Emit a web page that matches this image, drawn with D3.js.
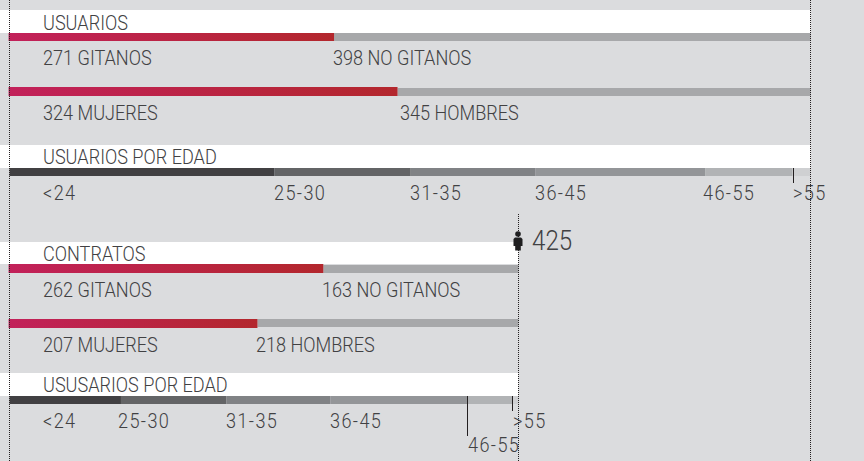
<!DOCTYPE html>
<html><head><meta charset="utf-8">
<script src="https://cdn.jsdelivr.net/npm/d3@7"></script>
<style>
html,body{margin:0;padding:0;background:#dbdcde}
svg{display:block}
text{font-family:"Roboto",sans-serif;font-weight:300;font-size:21px;fill:#414143}
</style></head><body>
<script>
const usersGender = [["GITANOS",271],["NO GITANOS",398]];
const usersSex = [["MUJERES",324],["HOMBRES",345]];
const usersAgeLabels = ["<24","25-30","31-35","36-45","46-55",">55"];
const usersAge = [221,114,104,142,73,15];
const contractsGender = [["GITANOS",262],["NO GITANOS",163]];
const contractsSex = [["MUJERES",207],["HOMBRES",218]];
const contractsAge = [93,88,87,114,38,5];
const titles = ["USUARIOS","USUARIOS POR EDAD","CONTRATOS","USUSARIOS POR EDAD"];
const ageColors = ["#414042","#636466","#808285","#939598","#b1b3b5","#cfd0d2"];
const totalUsers = 669, totalContracts = 425;

const W=864,H=461;
const svg=d3.select("body").append("svg").attr("width",W).attr("height",H);
svg.append("rect").attr("width",W).attr("height",H).attr("fill","#dbdcde");
const defs=svg.append("defs");
const grad=defs.append("linearGradient").attr("id","red");
grad.append("stop").attr("offset","0").attr("stop-color","#c2215a");
grad.append("stop").attr("offset","1").attr("stop-color","#b3272d");

const x=d3.scaleLinear().domain([0,totalUsers]).range([9.6,810.6]);
const tx=43, sx=0.862;
function label(px,py,str,size){
  const t=svg.append("text").attr("transform",`translate(${px},${py}) scale(${sx},1)`).text(str);
  if(size) t.style("font-size",size+"px");
  return t;
}
function band(y,h,val,title,base){
  svg.append("rect").attr("x",0).attr("y",y).attr("width",x(val)).attr("height",h).attr("fill","#fff");
  label(tx,base,title);
}
function split(rows,top,labelY,labelXs){
  const [a,b]=rows, xa=x(a[1]), xb=x(a[1]+b[1]);
  svg.append("rect").attr("x",xa).attr("y",top.grey).attr("width",xb-xa).attr("height",top.greyH).attr("fill","#a7a8aa");
  svg.append("rect").attr("x",x(0)-1).attr("y",top.red).attr("width",xa-x(0)+1).attr("height",top.redH).attr("fill","url(#red)");
  label(tx,labelY,a[1]+" "+a[0]);
  label(labelXs,labelY,b[1]+" "+b[0]);
}
function ages(vals,y,labelX,ticks){
  let c=0;
  const stack=vals.map(v=>{const s={x0:c,x1:c+v};c+=v;return s;});
  svg.selectAll(null).data(stack).enter().append("rect")
    .attr("x",d=>x(d.x0)).attr("y",y).attr("width",d=>x(d.x1)-x(d.x0)).attr("height",8)
    .attr("fill",(d,i)=>ageColors[i]);
  usersAgeLabels.forEach((l,i)=>label(labelX[i][0],labelX[i][1],l).style("letter-spacing","1.6px"));
  ticks.forEach(t=>{
    const p=Math.round(x(stack[t[0]].x0))+0.5;
    svg.append("line").attr("x1",p).attr("x2",p)
      .attr("y1",y).attr("y2",y+t[1]).attr("stroke","#231f20").attr("stroke-width",1);
  });
}
function dotted(xp,y0,y1){
  svg.append("line").attr("x1",xp).attr("x2",xp).attr("y1",y0).attr("y2",y1)
    .attr("stroke","#231f20").attr("stroke-width",1).attr("stroke-dasharray","1 1");
}

band(10,23,totalUsers,titles[0],30);
split(usersGender,{red:33,redH:8,grey:33,greyH:8},65,333);
split(usersSex,{red:87,redH:9,grey:88,greyH:8},120,400);
band(145,23,totalUsers,titles[1],164);
ages(usersAge,168,[[43,200],[274,200],[410,200],[535,200],[703,200],[793,200]],[[5,15]]);

band(242,22,totalContracts,titles[2],261);
split(contractsGender,{red:264,redH:9,grey:265,greyH:8},297,322);
split(contractsSex,{red:319,redH:9,grey:319,greyH:8},352,256);
band(373,23,totalContracts,titles[3],392);
ages(contractsAge,396,[[43,428],[118,428],[226,428],[330,428],[468,452],[513,428]],[[4,40],[5,15]]);

dotted(9.5,0,H);
dotted(810.5,0,H);
dotted(518.5,214,H);

const xm=Math.round(x(totalContracts));
const person=svg.append("g").attr("transform",`translate(${xm},231)`).attr("fill","#1f1f20");
person.append("circle").attr("cx",0).attr("cy",3).attr("r",2.8);
person.append("path").attr("d","M-3 6.5H3L4.5 8V15H2.8V19.5H-2.8V15H-4.5V8Z");
label(532,250,totalContracts,28);
</script>
</body></html>
